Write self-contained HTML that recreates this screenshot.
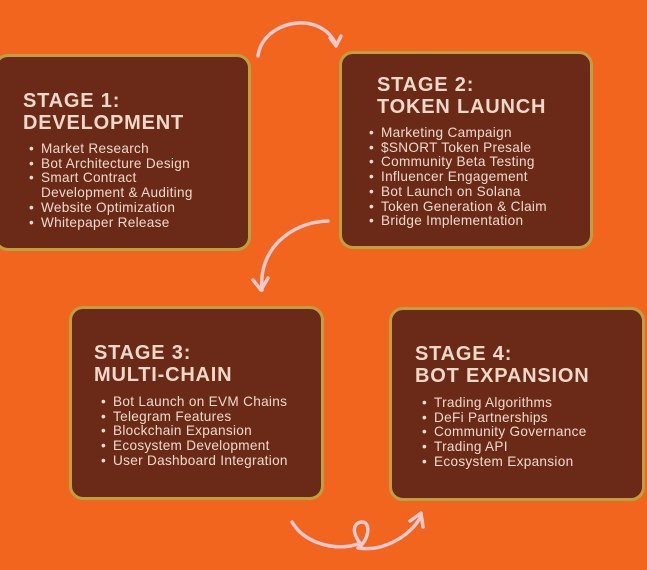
<!DOCTYPE html>
<html><head><style>
body{margin:0;width:647px;height:570px;background:#f1651f;position:relative;overflow:hidden;font-family:"Liberation Sans",sans-serif}
.box{position:absolute;background:#6a2a17;border:3px solid #bfa040;border-radius:14px;box-sizing:border-box}
.t{position:absolute;color:#f0d8c8;font-weight:bold;font-size:20px;line-height:22px;letter-spacing:0.8px}
ul{position:absolute;margin:0;padding:0;list-style:none;color:#f3d9cc;font-size:13.6px;line-height:14.7px;letter-spacing:0.3px}
li{padding-left:12px;position:relative;white-space:nowrap}
li:before{content:"•";position:absolute;left:0}
li.c:before{content:""}
</style></head><body>
<div class="box" style="left:-6px;top:54px;width:257px;height:197px"></div>
<div class="t" style="left:23px;top:90px">STAGE 1:<br>DEVELOPMENT</div>
<ul style="left:29px;top:142px">
<li>Market Research</li><li>Bot Architecture Design</li><li>Smart Contract</li><li class="c">Development &amp; Auditing</li><li>Website Optimization</li><li>Whitepaper Release</li></ul>

<div class="box" style="left:339px;top:51px;width:254px;height:198px"></div>
<div class="t" style="left:377px;top:74px">STAGE 2:<br>TOKEN LAUNCH</div>
<ul style="left:369px;top:126px">
<li>Marketing Campaign</li><li>$SNORT Token Presale</li><li>Community Beta Testing</li><li>Influencer Engagement</li><li>Bot Launch on Solana</li><li>Token Generation &amp; Claim</li><li>Bridge Implementation</li></ul>

<div class="box" style="left:69px;top:306px;width:255px;height:194px"></div>
<div class="t" style="left:94px;top:342px">STAGE 3:<br>MULTI-CHAIN</div>
<ul style="left:101px;top:395px">
<li>Bot Launch on EVM Chains</li><li>Telegram Features</li><li>Blockchain Expansion</li><li>Ecosystem Development</li><li>User Dashboard Integration</li></ul>

<div class="box" style="left:389px;top:307px;width:256px;height:194px"></div>
<div class="t" style="left:415px;top:343px">STAGE 4:<br>BOT EXPANSION</div>
<ul style="left:422px;top:396px">
<li>Trading Algorithms</li><li>DeFi Partnerships</li><li>Community Governance</li><li>Trading API</li><li>Ecosystem Expansion</li></ul>

<svg width="647" height="570" style="position:absolute;left:0;top:0" fill="none" stroke="#f8c8cc" stroke-width="3.5" stroke-linecap="round" stroke-linejoin="round">
<path d="M258 56 C262 22 318 8 336 44"/>
<path d="M330 38 L336 46 L341 36"/>
<path d="M328 221 C290 222 258 250 262 290"/>
<path d="M253 280 L261 290 L268 278"/>
<path d="M292 522 C305 545 340 552 360 543 C350 530 355 522 362 522 C372 522 368 542 358 548 C385 552 410 535 420 518"/>
<path d="M410 521 L421 513 L423 527"/>
</svg>
</body></html>
